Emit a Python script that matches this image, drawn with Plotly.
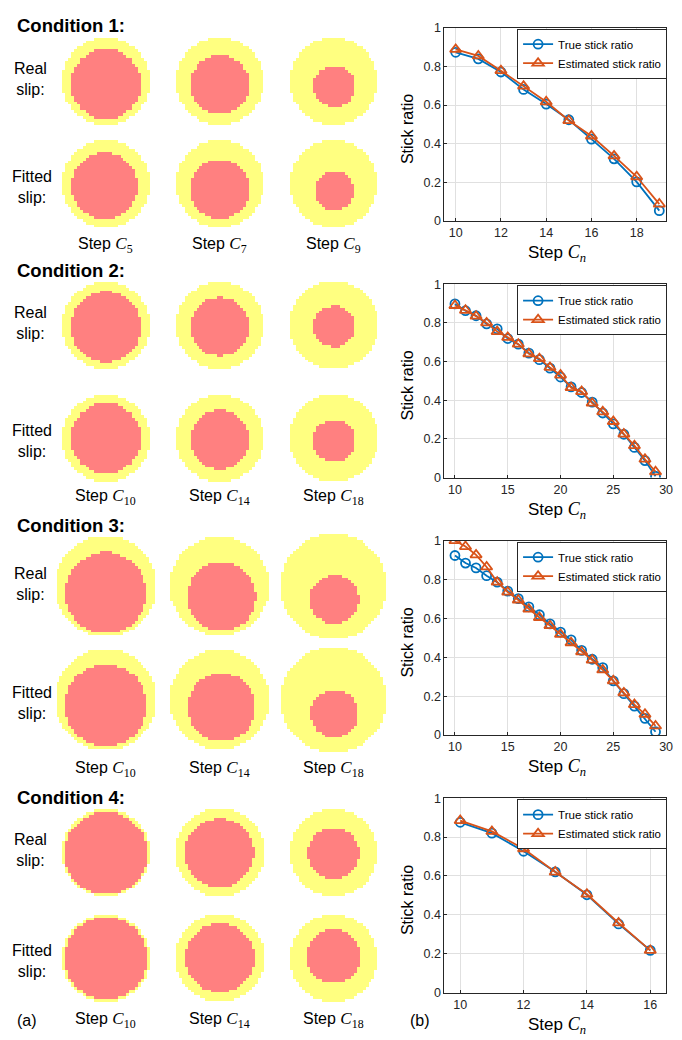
import math
import numpy as np
import plotly.graph_objects as go

W, H = 682, 1040

# ---------------- stick ratio per step (true vs estimated) ----------------
steps_1 = list(range(10, 20))
true_1 = [0.873, 0.839, 0.771, 0.681, 0.605, 0.524, 0.424, 0.322, 0.203, 0.054]
est_1 = [0.888, 0.854, 0.778, 0.698, 0.617, 0.520, 0.440, 0.337, 0.229, 0.088]

steps_2 = list(range(10, 30))
true_2 = [0.898, 0.863, 0.837, 0.795, 0.769, 0.719, 0.690, 0.644, 0.610, 0.566,
          0.520, 0.469, 0.440, 0.390, 0.334, 0.278, 0.224, 0.156, 0.088, 0.007]
est_2 = [0.890, 0.865, 0.835, 0.800, 0.755, 0.725, 0.690, 0.640, 0.615, 0.570,
         0.530, 0.465, 0.445, 0.385, 0.340, 0.290, 0.225, 0.165, 0.095, 0.030]

steps_3 = list(range(10, 30))
true_3 = [0.924, 0.885, 0.860, 0.820, 0.787, 0.741, 0.702, 0.660, 0.619, 0.572,
          0.530, 0.490, 0.436, 0.390, 0.347, 0.279, 0.213, 0.149, 0.086, 0.017]
est_3 = [1.000, 0.970, 0.927, 0.865, 0.787, 0.736, 0.695, 0.648, 0.605, 0.563,
         0.518, 0.475, 0.428, 0.386, 0.335, 0.279, 0.217, 0.157, 0.107, 0.047]

steps_4 = list(range(10, 17))
true_4 = [0.876, 0.820, 0.727, 0.621, 0.503, 0.353, 0.217]
est_4 = [0.885, 0.829, 0.740, 0.620, 0.506, 0.358, 0.217]

# ---------------- contact maps (radii in grid cells) ----------------
cond_steps = [[5, 7, 9], [10, 14, 18], [10, 14, 18], [10, 14, 18]]
contact_r = [[15.0, 15.0, 15.0], [15.0, 15.0, 15.2], [17.4, 17.2, 18.2], [15.0, 15.2, 15.0]]
real_stick_r = [[12.1, 10.2, 7.2], [12.1, 10.1, 7.2], [14.0, 11.9, 8.4], [14.2, 11.9, 8.7]]
real_stick_dx = [[0.0, 0.0, 0.3], [0.0, 0.0, 0.2], [0.0, 0.7, 0.3], [0.0, -0.2, 0.0]]
real_stick_dy = [[1.0, 1.2, 1.8], [0.5, 0.5, 0.5], [2.4, 3.6, 4.6], [0.2, 0.2, 0.2]]
fit_stick_r = [[11.4, 10.2, 6.8], [12.1, 10.2, 7.3], [14.2, 11.8, 8.2], [14.2, 12.0, 9.2]]
fit_stick_dx = [[-0.5, 0.0, 0.3], [0.0, 0.0, 0.2], [0.0, 0.7, 0.3], [0.0, 0.0, 0.0]]
fit_stick_dy = [[0.7, 1.9, 2.4], [0.0, 0.5, 1.0], [2.0, 2.7, 4.8], [0.0, 0.0, -0.8]]

BLUE = "#0072BD"
ORANGE = "#D95319"
SLIP = "#FFFF80"
STICK = "#FF8080"
FONT = "Liberation Sans, Arial, sans-serif"
MATH = "Liberation Serif, DejaVu Serif, serif"

# layout of the left panel, in canvas pixels
CANVAS_W = 440
CELL = 2.93
col_x = [107, 222, 337]
row_y = [(75, 179), (322.5, 437), (587, 702), (857, 964)]
header_y = [19, 267, 526, 801]
step_label_y = [241, 497, 772, 1027]

fig = go.Figure()


def disc_map(R, r, dx, dy):
    n = 2 * math.ceil(R) + 2
    off = (n - 1) / 2.0
    idx = np.arange(n) - off
    X, Y = np.meshgrid(idx, idx)
    z = np.full((n, n), np.nan)
    inside = np.hypot(X, Y) <= R
    z[inside] = 0.0
    stick = inside & (np.hypot(X - dx, Y - dy) <= r)
    z[stick] = 1.0
    return z, off


for ci in range(4):
    for col in range(3):
        for row, (rr, rdx, rdy) in enumerate([
            (real_stick_r, real_stick_dx, real_stick_dy),
            (fit_stick_r, fit_stick_dx, fit_stick_dy),
        ]):
            z, off = disc_map(contact_r[ci][col], rr[ci][col], rdx[ci][col], rdy[ci][col])
            cx = col_x[col]
            cy = row_y[ci][row]
            fig.add_trace(go.Heatmap(
                z=z, x0=cx - off * CELL, dx=CELL, y0=cy - off * CELL, dy=CELL,
                colorscale=[[0, SLIP], [1, STICK]], zmin=0, zmax=1,
                showscale=False, zsmooth=False, hoverinfo="skip",
                xaxis="x", yaxis="y", showlegend=False,
            ))


def math_c(sub, size):
    return (f"<span style='font-family:{MATH};font-size:{size}px'><i>C</i>"
            f"<sub>{sub}</sub></span>")


annotations = []
for ci in range(4):
    annotations.append(dict(
        x=15, y=header_y[ci], xref="x", yref="y", xanchor="left", yanchor="middle",
        text=f"<b>Condition {ci + 1}:</b>", showarrow=False,
        font=dict(family=FONT, size=18.5, color="black")))
    annotations.append(dict(
        x=31, y=row_y[ci][0] - 2, xref="x", yref="y", xanchor="center", yanchor="middle",
        text="Real<br>slip:", showarrow=False, align="center",
        font=dict(family=FONT, size=16, color="black")))
    annotations.append(dict(
        x=32, y=row_y[ci][1] + 3, xref="x", yref="y", xanchor="center", yanchor="middle",
        text="Fitted<br>slip:", showarrow=False, align="center",
        font=dict(family=FONT, size=16, color="black")))
    for col in range(3):
        annotations.append(dict(
            x=col_x[col], y=step_label_y[ci], xref="x", yref="y",
            xanchor="center", yanchor="middle", showarrow=False,
            text="Step " + math_c(cond_steps[ci][col], 17),
            font=dict(family=FONT, size=16, color="black")))

annotations.append(dict(x=15, y=1027, xref="x", yref="y", xanchor="left", yanchor="middle",
                        text="(a)", showarrow=False,
                        font=dict(family=FONT, size=16, color="black")))

# ---------------- right panel: stick ratio charts ----------------
charts = [
    (steps_1, true_1, est_1, (21, 217), [9.5, 19.3], [10, 12, 14, 16, 18]),
    (steps_2, true_2, est_2, (281, 477), [9, 30], [10, 15, 20, 25, 30]),
    (steps_3, true_3, est_3, (541, 738), [9, 30], [10, 15, 20, 25, 30]),
    (steps_4, true_4, est_4, (802, 999), [9.5, 16.5], [10, 12, 14, 16]),
]
PX0, PX1 = 449, 673


def px(x):
    return x / W


def py(y):
    return 1 - y / H


layout_axes = {}
for k, (xs, tr, es, (top, bot), xr, xt) in enumerate(charts):
    n = k + 2
    ax, ay = f"x{n}", f"y{n}"
    leg = "legend" if k == 0 else f"legend{k + 1}"
    fig.add_trace(go.Scatter(
        x=xs, y=tr, mode="lines+markers", name="True stick ratio",
        line=dict(color=BLUE, width=1.8),
        marker=dict(symbol="circle-open", size=9, color=BLUE, line=dict(width=1.8)),
        xaxis=ax, yaxis=ay, legend=leg, hoverinfo="skip"))
    fig.add_trace(go.Scatter(
        x=xs, y=es, mode="lines+markers", name="Estimated stick ratio",
        line=dict(color=ORANGE, width=1.8),
        marker=dict(symbol="triangle-up-open", size=10, color=ORANGE, line=dict(width=1.8)),
        xaxis=ax, yaxis=ay, legend=leg, hoverinfo="skip"))
    common = dict(showgrid=True, gridcolor="#E0E0E0", gridwidth=1,
                  showline=True, linecolor="#262626", linewidth=1, mirror=True,
                  ticks="inside", ticklen=3, tickcolor="#262626", zeroline=False,
                  tickfont=dict(family=FONT, size=12.5, color="#262626"), fixedrange=True)
    layout_axes[f"xaxis{n}"] = dict(domain=[px(PX0), px(PX1)], range=xr, tickvals=xt,
                                    anchor=ay, **common)
    layout_axes[f"yaxis{n}"] = dict(domain=[py(bot), py(top)], range=[0, 1],
                                    tickvals=[0, 0.2, 0.4, 0.6, 0.8, 1],
                                    ticktext=["0", "0.2", "0.4", "0.6", "0.8", "1"],
                                    anchor=ax, **common)
    layout_axes[leg] = dict(
        x=px(674), y=py(top + 1), xanchor="right", yanchor="top",
        bgcolor="white", bordercolor="#262626", borderwidth=1,
        font=dict(family=FONT, size=11.5, color="black"),
        itemwidth=30, tracegroupgap=0)
    annotations.append(dict(
        x=px(412), y=py((top + bot) / 2 + 5), xref="paper", yref="paper",
        text="Stick ratio", textangle=-90, showarrow=False,
        xanchor="center", yanchor="middle",
        font=dict(family=FONT, size=16, color="black")))
    annotations.append(dict(
        x=px(563), y=py(bot + 33), xref="paper", yref="paper",
        text="Step " + math_c("<i>n</i>", 18),
        showarrow=False, xanchor="center", yanchor="middle",
        font=dict(family=FONT, size=17, color="black")))

annotations.append(dict(x=px(412), y=py(1027), xref="paper", yref="paper",
                        xanchor="left", yanchor="middle", text="(b)", showarrow=False,
                        font=dict(family=FONT, size=16, color="black")))

fig.update_layout(
    width=W, height=H, margin=dict(l=0, r=0, t=0, b=0),
    paper_bgcolor="white", plot_bgcolor="white",
    xaxis=dict(domain=[0, CANVAS_W / W], range=[0, CANVAS_W], visible=False, fixedrange=True),
    yaxis=dict(domain=[0, 1], range=[1040, 0], visible=False, fixedrange=True),
    annotations=annotations, hovermode=False,
    **layout_axes,
)

fig.write_html("out.html", config={"displayModeBar": False})
